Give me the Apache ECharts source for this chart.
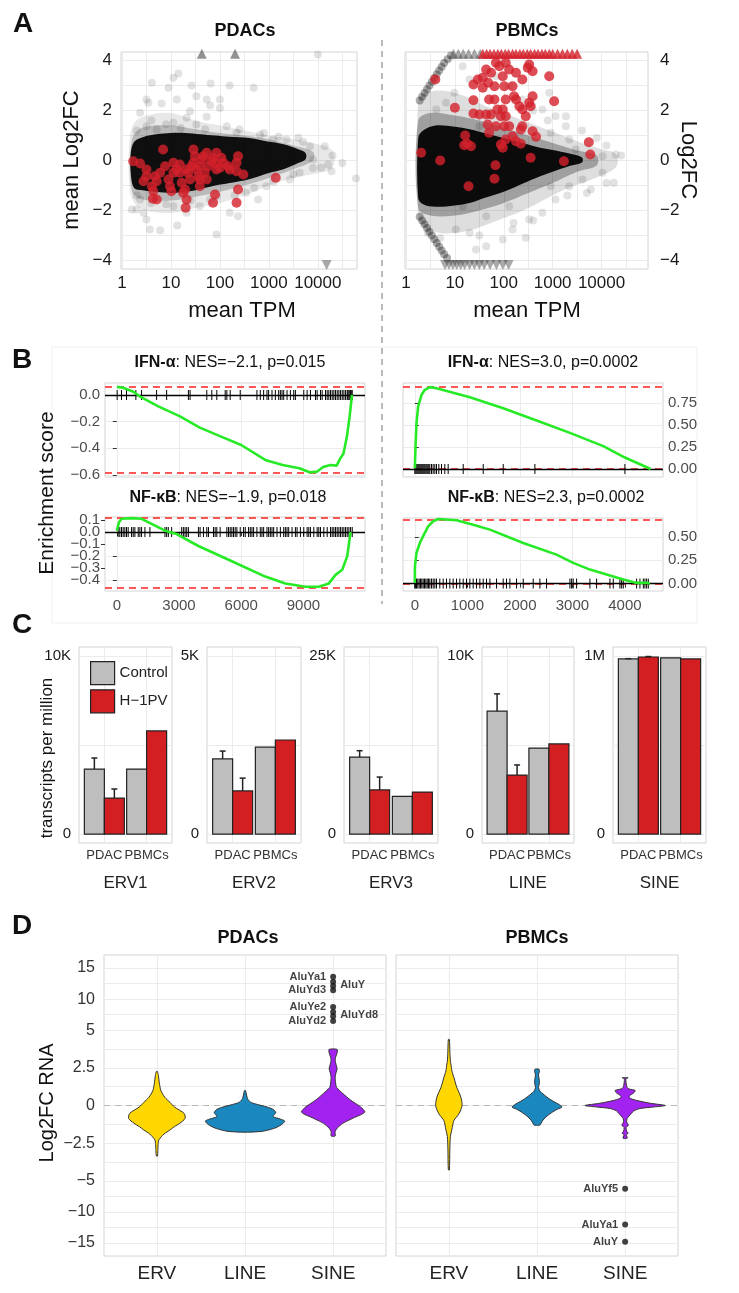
<!DOCTYPE html>
<html><head><meta charset="utf-8">
<script src="https://cdn.jsdelivr.net/npm/echarts@6/dist/echarts.min.js"></script>
<style>html,body{margin:0;padding:0;background:#fff}#c{width:739px;height:1293px}</style>
</head><body><div id="c"></div>
<script>
const FONT = "'Liberation Sans', Arial, Helvetica, sans-serif";
const MINUS = '\u2212';

// ================= Panel A : MA plots (x = log10 mean TPM, y = mean Log2FC) =================
const maTickValues = [0, 1, 2, 3, 4];
const maTickLabels = ['1', '10', '100', '1000', '10000'];
const maGridValues = [0, 0.5, 1, 1.5, 2, 2.5, 3, 3.5, 4, 4.5];
const maYTicks = [-4, -2, 0, 2, 4];
const maYGrid = [-4, -3, -2, -1, 0, 1, 2, 3, 4];

// density envelopes of the overplotted cloud [log10 TPM, low, high]
const pdacHalo = [[0.15,-1.0,0.7],[0.25,-1.7,1.5],[0.5,-2.0,1.8],[1.0,-2.1,1.9],[1.5,-1.9,1.6],[2.0,-1.7,1.4],[2.5,-1.4,1.2],[3.0,-1.0,1.0],[3.5,-0.7,0.85],[4.0,-0.5,0.65],[4.3,-0.3,0.4]];
const pdacMid = [[0.2,-1.2,0.8],[0.4,-1.55,1.3],[1.0,-1.6,1.4],[1.5,-1.45,1.25],[2.0,-1.25,1.1],[2.5,-1.0,1.0],[3.0,-0.7,0.85],[3.5,-0.35,0.6],[3.9,0.0,0.35]];
const pdacCore = [[0.18,-0.5,0.3],[0.25,-1.1,0.75],[0.45,-1.2,0.95],[0.7,-1.25,1.05],[1.0,-1.3,1.1],[1.3,-1.25,1.1],[1.6,-1.15,1.05],[1.9,-1.0,1.0],[2.2,-0.9,0.95],[2.6,-0.75,0.9],[3.0,-0.5,0.75],[3.3,-0.35,0.65],[3.6,-0.1,0.45],[3.75,0.05,0.3]];
const pdacGray = [[0.61,3.11],[1.05,3.31],[1.15,3.48],[0.95,2.91],[1.42,3.0],[1.81,3.08],[2.2,3.0],[2.69,2.91],[4.0,4.24],[0.5,2.44],[0.54,2.31],[0.81,2.28],[1.12,2.44],[1.52,2.57],[1.73,2.44],[2.0,2.44],[1.8,2.2],[1.39,1.97],[1.73,1.75],[1.32,1.71],[2.0,2.1],[0.37,1.91],[0.5,1.37],[0.71,1.24],[1.05,1.51],[1.52,1.44],[2.14,1.37],[2.34,1.11],[2.82,1.04],[3.09,0.84],[3.36,0.84],[3.6,0.91],[3.84,0.57],[4.14,0.57],[4.21,-0.16],[4.28,-0.43],[4.78,-0.72],[3.9,0.04],[4.07,-0.29],[0.37,-1.56],[0.3,-1.96],[0.5,-2.36],[0.57,-2.76],[0.78,-2.79],[1.13,-2.6],[1.93,-2.96],[2.2,-2.09],[2.37,-2.23],[1.59,-1.83],[0.2,-1.96],[0.44,-2.09],[1.05,-1.83],[1.32,-2.09],[2.78,-1.56],[3.63,-0.49],[3.43,-0.76],[2.95,-1.03],[2.54,-1.29],[1.93,-1.43],
  [0.3,1.2],[0.6,1.6],[0.9,1.45],[1.2,1.3],[1.7,1.25],[2.4,1.25],[2.9,1.1],[3.2,0.95],[3.7,0.75],[4.3,0.2],[4.5,-0.1],[0.3,-1.4],[0.6,-1.7],[0.9,-1.75],[1.4,-1.6],[1.8,-1.55],[2.3,-1.4],[2.7,-1.1],[3.1,-0.85],[3.5,-0.55],[3.9,-0.3]];
const pdacTriUp = [[1.63,4.27],[2.31,4.27]];
const pdacTriDown = [[4.18,-4.18]];
const pdacRed = [[0.23,-0.03],[0.37,-0.12],[0.5,-0.63],[0.61,-1.03],[0.64,-1.23],[0.63,-1.53],[0.71,-0.83],[0.78,-0.49],[0.84,0.44],[0.88,-0.23],[0.95,-0.76],[0.98,-1.03],[1.01,-1.23],[1.05,-0.49],[1.12,-0.36],[1.18,-0.16],[1.22,-0.89],[1.25,-1.29],[1.29,-1.16],[1.3,-1.89],[1.32,-1.56],[1.35,-0.49],[1.39,-0.76],[1.42,-0.23],[1.46,-0.09],[1.49,0.17],[1.52,-0.36],[1.56,-0.63],[1.59,-0.23],[1.63,0.04],[1.66,0.17],[1.69,-0.49],[1.73,-0.76],[1.59,-1.03],[1.76,-0.23],[1.83,-0.03],[1.86,0.11],[1.9,-0.09],[1.93,0.31],[2.0,-0.29],[2.07,-0.09],[1.9,-1.36],[1.86,-1.69],[2.03,0.11],[1.46,0.44],[1.73,0.31],[2.37,0.17],[2.34,-0.09],[2.34,-0.43],[2.2,-0.36],[2.48,-0.56],[2.37,-1.16],[2.34,-1.69],[3.14,-0.69],[0.5,-0.36],[0.67,-0.63],[1.05,-0.09],[1.18,-0.49],[1.32,-0.36],[1.59,-0.76],[1.93,-0.36],[2.17,-0.23],[0.71,-1.56],[0.44,-0.83]];

const pbmcHalo = [[0.25,-2.3,2.4],[0.4,-2.7,2.7],[0.7,-2.9,2.8],[1.0,-2.9,2.7],[1.3,-2.8,2.5],[1.6,-2.6,2.2],[2.0,-2.3,1.9],[2.4,-2.0,1.6],[2.8,-1.6,1.3],[3.2,-1.2,1.0],[3.6,-0.9,0.7],[4.0,-0.6,0.45],[4.3,-0.25,0.25]];
const pbmcMid = [[0.25,-1.9,1.6],[0.5,-2.2,1.9],[1.0,-2.2,1.8],[1.5,-2.0,1.6],[2.0,-1.7,1.3],[2.5,-1.3,1.0],[3.0,-0.9,0.7],[3.5,-0.45,0.4],[3.9,-0.2,0.2]];
const pbmcCore = [[0.25,-1.5,0.9],[0.35,-1.75,1.2],[0.6,-1.85,1.4],[1.0,-1.8,1.35],[1.3,-1.7,1.25],[1.6,-1.5,1.1],[2.0,-1.25,0.9],[2.3,-1.0,0.75],[2.66,-0.7,0.55],[3.0,-0.45,0.42],[3.34,-0.22,0.28],[3.6,-0.08,0.12]];
const pbmcGray = [[3.06,1.77],[3.27,1.77],[2.96,1.11],[3.34,0.84],[3.47,0.44],[4.02,0.17],[4.29,0.24],[4.25,-0.89],[3.78,-1.16],[3.61,-0.76],[4.02,-0.49],[3.34,-1.03],[3.06,-1.56],[2.79,-2.09],[2.45,-3.09],[2.18,-2.76],[1.98,-3.16],[1.64,-3.43],[1.43,-3.56],[1.3,-2.89],[1.02,-2.76],[2.52,-2.36],[2.96,-1.03],[3.27,1.37],[2.93,2.71],[2.79,2.04],[2.38,2.44],[2.11,2.97],[1.3,3.24],[0.62,2.04],[1.16,3.77],[1.84,3.37],[0.99,2.71],[0.82,2.31],[1.5,1.37],[1.16,-1.83],[1.64,-2.23],[2.11,-1.83],
  [3.6,1.2],[3.9,0.9],[4.1,0.6],[4.4,0.2],[3.3,-1.4],[3.7,-1.3],[4.1,-0.9],[2.6,2.0],[2.9,1.6],[0.45,-2.9],[0.7,-3.1],[1.5,-3.0],[2.2,-2.5],[2.6,-2.4]];
const pbmcStreak = [[0.28,2.4],[0.33,2.55],[0.38,2.7],[0.43,2.85],[0.48,3.0],[0.53,3.15],[0.58,3.3],[0.63,3.45],[0.68,3.6],[0.73,3.75],[0.78,3.9],[0.85,4.05],[0.92,4.2],[0.28,-2.25],[0.33,-2.4],[0.38,-2.55],[0.43,-2.7],[0.48,-2.85],[0.53,-3.0],[0.58,-3.15],[0.63,-3.3],[0.68,-3.45],[0.73,-3.6],[0.78,-3.75],[0.84,-3.9]];
const pbmcTriUp = [[0.97,4.27],[1.07,4.27],[1.17,4.27],[1.28,4.27],[1.4,4.27],[1.52,4.27]];
const pbmcTriDown = [[0.8,-4.18],[0.88,-4.18],[0.96,-4.18],[1.04,-4.18],[1.12,-4.18],[1.2,-4.18],[1.3,-4.18],[1.4,-4.18],[1.5,-4.18],[1.6,-4.18],[1.72,-4.18],[1.85,-4.18],[1.98,-4.18],[2.1,-4.18]];
const pbmcRedTri = [[1.57,4.27],[1.65,4.27],[1.72,4.27],[1.8,4.27],[1.88,4.27],[1.95,4.27],[2.03,4.27],[2.1,4.27],[2.18,4.27],[2.25,4.27],[2.33,4.27],[2.4,4.27],[2.48,4.27],[2.55,4.27],[2.63,4.27],[2.7,4.27],[2.78,4.27],[2.85,4.27],[2.93,4.27],[3.0,4.27],[3.1,4.27],[3.2,4.27],[3.3,4.27],[3.4,4.27],[3.5,4.27]];
const pbmcRed = [[0.6,3.24],[0.31,0.31],[0.7,0.0],[1.0,2.11],[1.21,1.0],[1.25,0.68],[1.33,0.57],[1.28,-1.03],[1.38,1.88],[1.38,2.41],[1.38,3.04],[1.47,3.24],[1.57,3.31],[1.64,3.64],[1.68,3.11],[1.74,3.51],[1.81,2.97],[1.84,3.91],[1.91,3.77],[1.98,3.37],[2.01,2.97],[2.04,3.91],[2.11,3.64],[2.25,3.51],[2.38,3.24],[1.81,2.44],[1.87,2.04],[1.94,1.77],[1.84,1.37],[1.98,2.04],[2.04,2.44],[2.04,1.77],[2.11,1.37],[2.18,2.97],[2.21,2.57],[2.25,2.44],[2.32,2.17],[2.38,2.04],[2.45,1.77],[2.52,2.31],[2.59,2.57],[2.55,2.17],[2.49,3.71],[2.52,3.84],[2.59,3.57],[1.7,1.11],[1.67,1.44],[1.74,1.84],[1.94,0.64],[1.98,0.51],[2.01,1.37],[2.04,0.84],[2.18,0.97],[2.25,0.77],[2.38,1.37],[2.35,1.24],[2.59,1.17],[2.66,0.95],[2.35,0.67],[2.55,0.11],[2.93,3.37],[3.03,2.37],[3.23,-0.03],[3.74,0.73],[3.77,0.24],[1.83,-0.19],[1.81,-0.73],[1.5,1.84],[1.64,1.84],[1.57,2.91],[1.7,2.44],[1.19,0.61]];

// ================= Panel B : GSEA running enrichment =================
const gseaTitles = ['{b|IFN-α}: NES=\u22122.1, p=0.015', '{b|NF-κB}: NES=\u22121.9, p=0.018', '{b|IFN-α}: NES=3.0, p=0.0002', '{b|NF-κB}: NES=2.3, p=0.0002'];
const pdacIfnCurve = [[0,0.06],[300,0.055],[800,0.025],[1100,-0.01],[2000,-0.085],[3050,-0.16],[4000,-0.245],[5000,-0.31],[6000,-0.375],[7200,-0.49],[8000,-0.525],[8800,-0.55],[9300,-0.58],[9650,-0.575],[9950,-0.54],[10300,-0.525],[10600,-0.53],[10780,-0.475],[10930,-0.44],[11100,-0.31],[11230,-0.16],[11340,0]];
const pdacIfnHits = [16,226,468,919,1194,1919,2403,3452,3533,4339,4581,4823,5226,5307,5468,5952,6758,6920,7081,7242,7323,7484,7646,7807,7888,7968,8049,8210,8371,8533,8613,9017,9178,9339,9581,9662,9823,9904,10065,10146,10226,10307,10388,10468,10549,10630,10710,10791,10872,10952,11033,11113,11146,11194,11242,11275,11307,11355];
const pdacNfkbCurve = [[0,0.01],[100,0.08],[226,0.11],[710,0.116],[1194,0.11],[1677,0.068],[2323,0.011],[2887,-0.017],[3935,-0.116],[5548,-0.243],[7161,-0.37],[8129,-0.427],[9097,-0.455],[9742,-0.455],[10226,-0.427],[10548,-0.356],[10871,-0.314],[11113,-0.2],[11274,0]];
const pdacNfkbHits = [64,145,226,306,387,468,548,710,790,871,1032,1113,1194,1355,1597,2323,2403,2484,2645,3129,3210,3291,3371,3452,3936,4016,4178,4339,4420,4662,4742,4823,4984,5307,5388,5468,5549,5629,5710,5791,5952,6113,6194,6355,6436,6517,6597,6758,6920,7000,7081,7242,7323,7404,7484,7565,7726,7888,8049,8129,8210,8291,8452,8613,8694,8855,9017,9178,9258,9339,9500,9662,9742,9823,9984,10146,10307,10388,10468,10549,10630,10710,10791,10872,10952,11033,11113,11194,11275,11355];
const pbmcIfnCurve = [[0,0.008],[13,0.25],[32,0.52],[63,0.71],[127,0.84],[190,0.9],[286,0.93],[413,0.917],[1048,0.815],[1683,0.69],[2318,0.55],[2953,0.41],[3588,0.26],[4000,0.13],[4490,0]];
const pbmcIfnHits = [0,19,38,57,76,95,114,133,152,171,190,210,229,248,267,286,318,349,381,413,457,508,571,635,921,1302,1683,2286,4000];
const pbmcNfkbCurve = [[0,0.007],[2,0.186],[32,0.33],[95,0.436],[159,0.51],[254,0.615],[349,0.67],[444,0.694],[794,0.68],[1111,0.633],[1429,0.58],[2064,0.436],[2699,0.311],[3016,0.222],[3334,0.15],[3651,0.097],[3969,0.043],[4223,0.007],[4413,0.007],[4477,0]];
const pbmcNfkbHits = [0,7,32,57,83,108,133,159,184,210,235,260,286,317,349,381,413,476,540,603,667,730,794,857,921,984,1048,1111,1175,1238,1302,1365,1429,1556,1683,1746,1810,1937,2064,2254,2381,2508,2953,2985,3016,3080,3334,3461,3715,3778,3905,3937,3969,4223,4286,4350,4381,4413,4445];
const pdacRankTicks = [0, 3000, 6000, 9000];
const pbmcRankTicks = [0, 1000, 2000, 3000, 4000];
const nfkbESTicksA = [-0.4, -0.2, 0];
const nfkbESTicksB = [-0.3, -0.1, 0.1];

// ================= Panel C : transcripts per million =================
const cFamilies = ['ERV1', 'ERV2', 'ERV3', 'LINE', 'SINE'];
const cGroups = ['PDAC', 'PBMCs'];
const cControl = [[3650, 3650], [2110, 2440], [10800, 5300], [6900, 4830], [983000, 989000]];
const cH1PV = [[2020, 5790], [1210, 2640], [6200, 5900], [3310, 5060], [994000, 983000]];
const cControlSem = [[620, null], [220, null], [900, null], [970, null], [1500, null]];
const cH1PVSem = [[510, null], [360, null], [1800, null], [570, null], [2500, null]];
const cTops = [10000, 5000, 25000, 10000, 1000000];
const cTopLabels = ['10K', '5K', '25K', '10K', '1M'];

// ================= Panel D : Log2FC RNA violins =================
const dCategories = ['ERV', 'LINE', 'SINE'];
const dTickValues = [-15, -10, -5, -2.5, 0, 2.5, 5, 10, 15];
const dTickLabels = [MINUS+'15', MINUS+'10', MINUS+'5', MINUS+'2.5', '0', '2.5', '5', '10', '15'];
// violin profiles: [log2FC, half width in category units]
const pdacViolins = [
  [[2.26,0.006],[2.0,0.017],[1.5,0.028],[1.0,0.045],[0.55,0.09],[0.2,0.15],[-0.1,0.2],[-0.53,0.31],[-0.86,0.32],[-1.18,0.26],[-1.4,0.2],[-1.62,0.15],[-1.9,0.08],[-2.28,0.023],[-2.6,0.014],[-3.0,0.011],[-3.36,0.006]],
  [[0.99,0.006],[0.7,0.017],[0.4,0.034],[0.2,0.07],[0.07,0.14],[-0.1,0.25],[-0.26,0.32],[-0.48,0.35],[-0.62,0.33],[-0.75,0.32],[-0.9,0.4],[-1.03,0.45],[-1.2,0.43],[-1.36,0.39],[-1.5,0.34],[-1.62,0.27],[-1.72,0.19],[-1.77,0.05]],
  [[3.73,0.045],[3.5,0.045],[3.2,0.028],[3.0,0.023],[2.7,0.034],[2.45,0.045],[2.2,0.034],[1.9,0.023],[1.5,0.028],[1.2,0.04],[0.8,0.11],[0.35,0.2],[-0.09,0.31],[-0.42,0.36],[-0.6,0.32],[-0.75,0.26],[-1.0,0.17],[-1.18,0.11],[-1.51,0.045],[-1.73,0.023],[-2.02,0.023],[-2.05,0.006]]
];
const pbmcViolins = [
  [[4.39,0.006],[3.5,0.012],[2.95,0.017],[2.76,0.023],[2.3,0.034],[1.86,0.057],[1.5,0.074],[1.2,0.09],[0.55,0.136],[0,0.15],[-0.55,0.114],[-1.0,0.057],[-1.6,0.034],[-2.07,0.017],[-2.9,0.011],[-4.28,0.006]],
  [[2.41,0.023],[2.25,0.028],[2.08,0.017],[1.8,0.023],[1.53,0.028],[1.2,0.017],[0.95,0.034],[0.77,0.068],[0.55,0.114],[0.33,0.17],[0.1,0.24],[-0.1,0.284],[-0.25,0.23],[-0.42,0.18],[-0.7,0.114],[-0.97,0.068],[-1.2,0.045],[-1.3,0.034],[-1.32,0.006]],
  [[1.84,0.034],[1.8,0.011],[1.5,0.011],[1.2,0.023],[1.1,0.045],[1.0,0.114],[0.85,0.1],[0.77,0.08],[0.6,0.045],[0.45,0.068],[0.33,0.136],[0.15,0.284],[0,0.455],[-0.1,0.32],[-0.2,0.17],[-0.35,0.1],[-0.55,0.068],[-0.86,0.023],[-1.1,0.017],[-1.25,0.034],[-1.35,0.034],[-1.45,0.011],[-1.7,0.017],[-1.84,0.034],[-1.95,0.011],[-2.1,0.023],[-2.17,0.023],[-2.2,0.006]]
];
const violinColors = ['#FFD700', '#1a87bf', '#A222F0'];
const pdacOutValues = [13.6, 12.8, 12.1, 11.45, 8.76, 7.95, 7.26, 6.5];
const pdacOutNames = ['AluYa1', 'AluY', '', 'AluYd3', 'AluYe2', 'AluYd8', '', 'AluYd2'];
const pbmcOutValues = [-6.3, -12.05, -14.8];
const pbmcOutNames = ['AluYf5', 'AluYa1', 'AluY'];

// ---------------- helpers ----------------
const DSLOPE = 0.413; // compressed scale beyond |5| (piecewise axis of the original)
function tr(v){ const a = Math.abs(v); return a <= 5 ? v : Math.sign(v) * (5 + (a - 5) * DSLOPE); }
function inv(t){ const a = Math.abs(t); return a <= 5 ? t : Math.sign(t) * (5 + (a - 5) / DSLOPE); }
const signed = v => (v < 0 ? MINUS + Math.abs(v) : String(v));
const fixed = d => v => (v < -1e-9 ? MINUS : '') + Math.abs(v).toFixed(d);
const GRIDC = '#ebebeb';

const grids = [
  {left:121, top:52, width:236, height:217},
  {left:405, top:52, width:243, height:217},
  {left:105, top:383, width:260, height:94},
  {left:105, top:517, width:260, height:74},
  {left:403, top:383, width:260, height:94},
  {left:403, top:518, width:260, height:73},
  {left:79, top:647, width:93, height:196},
  {left:207, top:647, width:94, height:196},
  {left:344, top:647, width:94, height:196},
  {left:482, top:647, width:92, height:196},
  {left:613, top:647, width:93, height:196},
  {left:104, top:955, width:282, height:301},
  {left:396, top:955, width:282, height:301}
].map(g => Object.assign({show:true, borderColor:'#d4d4d4', borderWidth:1, backgroundColor:'transparent'}, g));

function vAxis(o){
  return {
    type:'value', gridIndex:o.g, min:o.min, max:o.max, position:o.pos,
    axisLine:{show:false},
    axisTick:{show:!!o.ticks, length:4, lineStyle:{color:'#333'}, customValues:o.grid},
    splitLine:{show:o.split !== false, lineStyle:{color:GRIDC, width:1}},
    axisLabel:{show:o.labels !== false, customValues:o.labels || undefined, formatter:o.fmt, fontSize:o.fs, color:o.color || '#1a1a1a', margin:o.margin, fontFamily:FONT, hideOverlap:false}
  };
}

const xAxes = [], yAxes = [];
// A
xAxes.push(vAxis({g:0, min:-0.02, max:4.8, grid:maGridValues, labels:maTickValues, fmt:v=>maTickLabels[Math.round(v)], fs:17, margin:6}));
xAxes.push(vAxis({g:1, min:-0.02, max:4.95, grid:maGridValues, labels:maTickValues, fmt:v=>maTickLabels[Math.round(v)], fs:17, margin:6}));
yAxes.push(vAxis({g:0, min:-4.34, max:4.34, grid:maYGrid, labels:maYTicks, fmt:signed, fs:17, margin:9, pos:'left'}));
yAxes.push(vAxis({g:1, min:-4.34, max:4.34, grid:maYGrid, labels:maYTicks, fmt:signed, fs:17, margin:12, pos:'right'}));
// B
xAxes.push(vAxis({g:2, min:-570, max:11970, grid:pdacRankTicks, labels:false}));
xAxes.push(vAxis({g:3, min:-570, max:11970, grid:pdacRankTicks, labels:pdacRankTicks, fmt:v=>String(Math.round(v)), fs:15, color:'#4d4d4d', margin:7, ticks:true}));
xAxes.push(vAxis({g:4, min:-225, max:4725, grid:pbmcRankTicks, labels:false}));
xAxes.push(vAxis({g:5, min:-225, max:4725, grid:pbmcRankTicks, labels:pbmcRankTicks, fmt:v=>String(Math.round(v)), fs:15, color:'#4d4d4d', margin:7, ticks:true}));
yAxes.push(vAxis({g:2, min:-0.615, max:0.09, grid:[-0.6,-0.4,-0.2,0], labels:[-0.6,-0.4,-0.2,0], fmt:fixed(1), fs:15, color:'#4d4d4d', margin:5, ticks:true, pos:'left'}));
yAxes.push(vAxis({g:3, min:-0.49, max:0.125, grid:nfkbESTicksA, labels:nfkbESTicksA, fmt:fixed(1), fs:15, color:'#4d4d4d', margin:5, ticks:true, pos:'left'}));
yAxes.push(vAxis({g:4, min:-0.091, max:0.977, grid:[0,0.25,0.5,0.75], labels:[0,0.25,0.5,0.75], fmt:fixed(2), fs:15, color:'#4d4d4d', margin:5, ticks:true, pos:'right'}));
yAxes.push(vAxis({g:5, min:-0.08, max:0.705, grid:[0,0.25,0.5], labels:[0,0.25,0.5], fmt:fixed(2), fs:15, color:'#4d4d4d', margin:5, ticks:true, pos:'right'}));
// C
cFamilies.forEach((f, i) => {
  const top = cTops[i];
  xAxes.push(vAxis({g:6+i, min:0.4, max:2.6, grid:[1,2], labels:[1,2], fmt:v=>cGroups[Math.round(v)-1], fs:13, color:'#333', margin:6}));
  yAxes.push(vAxis({g:6+i, min:-0.05*top, max:1.05*top, grid:[0, top/2, top], labels:[0, top], fmt:v=>(v === 0 ? '0' : cTopLabels[i]), fs:15, margin:8, pos:'left'}));
});
// D
const dMajorT = dTickValues.map(tr);
const dGridT = dMajorT.concat(dMajorT.slice(1).map((t, i) => (t + dMajorT[i]) / 2));
const dFmt = t => { const v = inv(t); let best = 0; dTickValues.forEach((d, k) => { if (Math.abs(d - v) < Math.abs(dTickValues[best] - v)) best = k; }); return dTickLabels[best]; };
[11, 12].forEach(g => {
  xAxes.push(vAxis({g, min:0.4, max:3.6, grid:[1,2,3], labels:[1,2,3], fmt:v=>dCategories[Math.round(v)-1], fs:19, color:'#222', margin:8}));
  yAxes.push(vAxis({g, min:-10, max:10, grid:dGridT, labels: g === 11 ? dMajorT : false, fmt:dFmt, fs:16, color:'#333', margin:9, pos:'left'}));
});
// second label set for the crowded NF-kB (PDAC) axis, same grid, side and scale
yAxes.push(vAxis({g:3, min:-0.49, max:0.125, grid:nfkbESTicksB, labels:nfkbESTicksB, fmt:fixed(1), fs:15, color:'#4d4d4d', margin:5, ticks:true, split:false, pos:'left'}));

// ---------------- series builders ----------------
const series = [];
function band(gi, arr, color){
  series.push({type:'custom', xAxisIndex:gi, yAxisIndex:gi, silent:true, z:1, data:[[arr[0][0], arr[0][1]]],
    renderItem(params, api){
      const up = arr.map(d => api.coord([d[0], d[2]]));
      const lo = arr.slice().reverse().map(d => api.coord([d[0], d[1]]));
      return {type:'polygon', shape:{points:up.concat(lo), smooth:0.35}, style:{fill:color}};
    }});
}
function pts(gi, data, color, size, symbol, rot){
  series.push({type:'scatter', xAxisIndex:gi, yAxisIndex:gi, data, symbol:symbol || 'circle', symbolSize:size, symbolRotate:rot || 0, itemStyle:{color}, silent:true, z:3});
}
// A left
band(0, pdacHalo, 'rgba(0,0,0,0.09)');
band(0, pdacMid, 'rgba(0,0,0,0.2)');
band(0, pdacCore, 'rgba(0,0,0,0.92)');
pts(0, pdacGray, 'rgba(0,0,0,0.14)', 8);
pts(0, pdacTriUp, 'rgba(60,60,60,0.7)', 10, 'triangle');
pts(0, pdacTriDown, 'rgba(60,60,60,0.55)', 10, 'triangle', 180);
pts(0, pdacRed, '#d3202a', 10);
// A right
band(1, pbmcHalo, 'rgba(0,0,0,0.13)');
band(1, pbmcMid, 'rgba(0,0,0,0.28)');
band(1, pbmcCore, 'rgba(0,0,0,0.93)');
pts(1, pbmcGray, 'rgba(0,0,0,0.14)', 8);
pts(1, pbmcStreak, 'rgba(0,0,0,0.4)', 8);
pts(1, pbmcTriUp, 'rgba(60,60,60,0.55)', 10, 'triangle');
pts(1, pbmcTriDown, 'rgba(60,60,60,0.55)', 10, 'triangle', 180);
pts(1, pbmcRedTri, '#d3202a', 10, 'triangle');
pts(1, pbmcRed, '#d3202a', 10);

// B
function gsea(gi, curve, hits){
  const ys = curve.map(d => d[1]);
  const esMax = Math.max.apply(null, ys), esMin = Math.min.apply(null, ys);
  const red = {color:'#ff1f1f', type:[7,5], width:1.6};
  series.push({type:'custom', xAxisIndex:gi, yAxisIndex:gi, silent:true, z:4, data:hits.map(h => [h, 0]),
    renderItem(params, api){
      const p = api.coord([api.value(0), 0]);
      return {type:'line', shape:{x1:p[0], y1:p[1]-5, x2:p[0], y2:p[1]+5}, style:{stroke:'#000', lineWidth:1}};
    }});
  series.push({type:'line', xAxisIndex:gi, yAxisIndex:gi, data:curve, symbol:'none', showSymbol:false, silent:true, z:6,
    lineStyle:{color:'#27ea27', width:2.6},
    markLine:{silent:true, symbol:['none','none'], z:3, animation:false, label:{show:false},
      data:[{yAxis:esMax, lineStyle:red}, {yAxis:esMin, lineStyle:red}, {yAxis:0, lineStyle:{color:'#000', type:'solid', width:1.3}}]}});
}
gsea(2, pdacIfnCurve, pdacIfnHits);
gsea(3, pdacNfkbCurve, pdacNfkbHits);
gsea(4, pbmcIfnCurve, pbmcIfnHits);
gsea(5, pbmcNfkbCurve, pbmcNfkbHits);

// C
const BARW = 20;
function bars(gi, name, vals, color, side){
  series.push({type:'custom', name, xAxisIndex:gi, yAxisIndex:gi, silent:true, z:3, itemStyle:{color},
    data: vals.map((v, i) => [i + 1, v]),
    renderItem(params, api){
      const x = api.value(0), v = api.value(1);
      const b = api.coord([x, 0]), t = api.coord([x, v]);
      return {type:'rect', shape:{x: side < 0 ? b[0] - BARW : b[0], y:t[1], width:BARW, height:b[1] - t[1]}, style:{fill:color, stroke:'#222', lineWidth:1.2}};
    }});
}
function errs(gi, vals, sems, side){
  const data = vals.map((v, i) => [i + 1, v, sems[i]]).filter(d => d[2] != null);
  series.push({type:'custom', xAxisIndex:gi, yAxisIndex:gi, silent:true, z:4, data,
    renderItem(params, api){
      const x = api.value(0), v = api.value(1), s = api.value(2);
      const p0 = api.coord([x, v]), p1 = api.coord([x, v + s]);
      const cx = p0[0] + side * BARW / 2;
      const st = {stroke:'#222', lineWidth:1.5};
      return {type:'group', children:[
        {type:'line', shape:{x1:cx, y1:p0[1], x2:cx, y2:p1[1]}, style:st},
        {type:'line', shape:{x1:cx-3, y1:p1[1], x2:cx+3, y2:p1[1]}, style:st}]};
    }});
}
cFamilies.forEach((f, i) => {
  bars(6+i, 'Control', cControl[i], '#bebebe', -1);
  bars(6+i, 'H\u22121PV', cH1PV[i], '#d41f22', 1);
  errs(6+i, cControl[i], cControlSem[i], -1);
  errs(6+i, cH1PV[i], cH1PVSem[i], 1);
});

// D
function violins(gi, profiles){
  series.push({type:'custom', xAxisIndex:gi, yAxisIndex:gi, silent:true, z:7, data:profiles.map((p, i) => [i + 1, 0]),
    renderItem(params, api){
      const prof = profiles[params.dataIndex], cx = api.value(0);
      const right = prof.map(d => api.coord([cx + d[1], tr(d[0])]));
      const left = prof.slice().reverse().map(d => api.coord([cx - d[1], tr(d[0])]));
      return {type:'polygon', shape:{points:right.concat(left), smooth:0.25}, style:{fill:violinColors[params.dataIndex], stroke:'#333', lineWidth:1}};
    }});
}
const rightLabelled = {AluY:true, AluYd8:true};
function outliers(gi, vals, names){
  series.push({type:'scatter', xAxisIndex:gi, yAxisIndex:gi, silent:true, z:2, symbolSize:6, itemStyle:{color:'#111'},
    data: vals.map((v, i) => ({value:[3, tr(v)], name:names[i],
      label:{show:names[i] !== '', formatter:names[i], position: rightLabelled[names[i]] && gi === 11 ? 'right' : 'left', distance:4,
        offset: rightLabelled[names[i]] && gi === 11 ? [0, 3] : [0, 0], fontSize:11, fontWeight:'bold', color:'#111', fontFamily:FONT}})),
    markLine:{silent:true, symbol:['none','none'], z:1, animation:false, label:{show:false},
      data:[{yAxis:0, lineStyle:{color:'#b8b8b8', type:[6,5], width:1.2}}]}});
}
violins(11, pdacViolins);
violins(12, pbmcViolins);
outliers(11, pdacOutValues, pdacOutNames);
outliers(12, pbmcOutValues, pbmcOutNames);

// ---------------- text ----------------
function txt(text, x, y, size, weight, rot, color, rich){
  return {type:'text', x, y, rotation:rot || 0, z:10, silent:true,
    style:{text, fontSize:size, fontWeight:weight || 'normal', fontFamily:FONT, fill:color || '#111', align:'center', verticalAlign:'middle', rich}};
}
const richB = {b:{fontWeight:'bold', fontSize:16, fontFamily:FONT, fill:'#111'}};
const graphic = [
  {type:'line', shape:{x1:382, y1:40, x2:382, y2:604}, style:{stroke:'#8c8c8c', lineDash:[6,5], lineWidth:1.2}, silent:true},
  {type:'rect', shape:{x:52, y:347, width:645, height:276}, style:{fill:'none', stroke:'#f1f1f1', lineWidth:1}, silent:true, z:-1},
  txt('A', 23, 24, 28, 'bold'), txt('B', 22, 360, 28, 'bold'), txt('C', 22, 625, 28, 'bold'), txt('D', 22, 926, 28, 'bold'),
  txt('PDACs', 245, 31, 18, 'bold'), txt('PBMCs', 527, 31, 18, 'bold'),
  txt('mean Log2FC', 72, 160, 22, 'normal', Math.PI/2),
  txt('Log2FC', 688, 160, 22, 'normal', -Math.PI/2),
  txt('mean TPM', 242, 311, 22), txt('mean TPM', 527, 311, 22),
  txt(gseaTitles[0], 230, 363, 16, 'normal', 0, '#111', richB),
  txt(gseaTitles[1], 228, 498, 16, 'normal', 0, '#111', richB),
  txt(gseaTitles[2], 543, 363, 16, 'normal', 0, '#111', richB),
  txt(gseaTitles[3], 546, 498, 16, 'normal', 0, '#111', richB),
  txt('Enrichment score', 47, 493, 21, 'normal', Math.PI/2),
  txt('transcripts per million', 47, 758, 17, 'normal', Math.PI/2),
  txt('PDACs', 248, 938, 18, 'bold'), txt('PBMCs', 537, 938, 18, 'bold'),
  txt('Log2FC RNA', 47, 1103, 20, 'normal', Math.PI/2)
];
const cCenters = [125.5, 254, 391, 528, 659.5];
cFamilies.forEach((f, i) => graphic.push(txt(f, cCenters[i], 883, 17, 'normal', 0, '#222')));

const chart = echarts.init(document.getElementById('c'), null, {renderer:'canvas'});
chart.setOption({
  animation:false,
  backgroundColor:'#ffffff',
  textStyle:{fontFamily:FONT},
  grid:grids, xAxis:xAxes, yAxis:yAxes, series, graphic,
  legend:{data:['Control','H\u22121PV'], left:85, top:656, orient:'vertical', itemWidth:24, itemHeight:23, itemGap:4, icon:'rect', selectedMode:false,
    itemStyle:{borderColor:'#222', borderWidth:1.2}, textStyle:{fontSize:15, color:'#222', fontFamily:FONT}}
});
</script></body></html>
